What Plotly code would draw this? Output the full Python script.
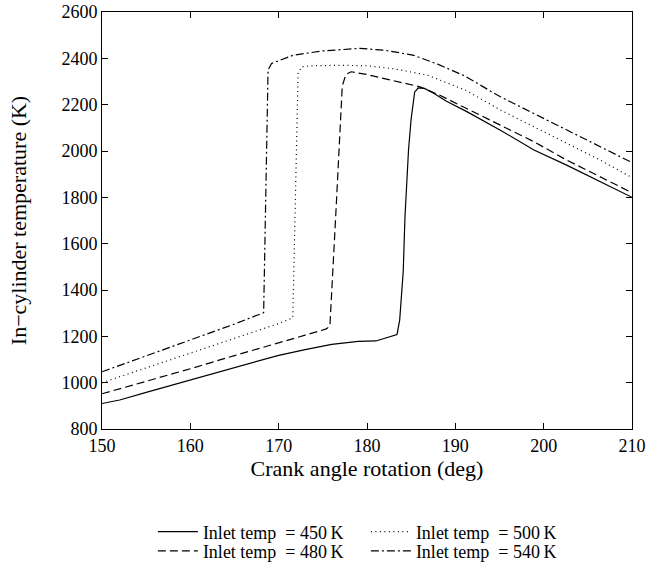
import plotly.graph_objects as go

# Inlet temp = 450 K (solid)
x450 = [150, 152, 155, 158, 160, 163, 166, 170, 173, 176, 179, 181, 183.4, 183.7, 184.1, 184.3, 184.7, 185.0, 185.4, 185.8, 186.5, 187.5, 189, 191.3, 195.1, 198.9, 202.6, 206.4, 210]
y450 = [910, 925, 958, 990, 1012, 1045, 1078, 1118, 1143, 1165, 1178, 1180, 1208, 1270, 1480, 1716, 2004, 2140, 2255, 2272, 2270, 2250, 2215, 2170, 2090, 2004, 1939, 1867, 1800]

# Inlet temp = 480 K (dashed)
x480 = [150, 155, 160, 165, 170, 173, 175.4, 175.8, 176.5, 177.2, 177.6, 178.2, 180, 183, 186, 188, 191.3, 195.1, 198.9, 202.6, 206.4, 210]
y480 = [952, 1005, 1060, 1117, 1174, 1205, 1232, 1245, 1750, 2280, 2330, 2342, 2330, 2305, 2277, 2245, 2184, 2112, 2040, 1961, 1890, 1820]

# Inlet temp = 500 K (dotted)
x500 = [150, 155, 160, 165, 170, 171.6, 171.9, 172.2, 172.6, 174, 177, 180, 183, 186.8, 189, 191.3, 195.1, 198.9, 202.6, 206.4, 210]
y500 = [1000, 1063, 1128, 1192, 1255, 1280, 1800, 2335, 2364, 2368, 2370, 2368, 2355, 2328, 2295, 2260, 2177, 2105, 2033, 1961, 1885]

# Inlet temp = 540 K (dash-dot)
x540 = [150, 155, 160, 165, 168.3, 168.5, 168.8, 169.2, 171.7, 175, 179.2, 182, 185.2, 188, 191, 195.1, 198.9, 202.6, 206.4, 210]
y540 = [1047, 1115, 1183, 1253, 1302, 1800, 2350, 2378, 2414, 2432, 2443, 2435, 2414, 2375, 2325, 2234, 2162, 2090, 2019, 1950]

labels = ["Inlet temp\u2002= 450\u2009K", "Inlet temp\u2002= 480\u2009K",
          "Inlet temp\u2002= 500\u2009K", "Inlet temp\u2002= 540\u2009K"]

xticks = [150, 160, 170, 180, 190, 200, 210]
yticks = [800, 1000, 1200, 1400, 1600, 1800, 2000, 2200, 2400, 2600]

FONT = "Liberation Serif"

fig = go.Figure()
series = [
    (x450, y450, labels[0], "solid", "legend"),
    (x500, y500, labels[2], "1px,3.5px", "legend"),
    (x480, y480, labels[1], "8px,4px", "legend2"),
    (x540, y540, labels[3], "8px,3px,2px,3px", "legend2"),
]
for xs, ys, name, dash, lg in series:
    fig.add_trace(go.Scatter(x=xs, y=ys, mode="lines", name=name,
                             line=dict(color="black", width=1.2, dash=dash),
                             legend=lg))

axis_common = dict(showgrid=False, zeroline=False, showline=True, linecolor="black",
                   linewidth=1, mirror="ticks", ticks="inside", ticklen=6,
                   tickcolor="black", tickfont=dict(family=FONT, size=18, color="black"))

legend_common = dict(orientation="h", x=0.096, xanchor="left", yanchor="middle",
                     entrywidth=158, entrywidthmode="pixels", tracegroupgap=0,
                     font=dict(family=FONT, size=18), itemwidth=40,
                     bgcolor="rgba(0,0,0,0)", borderwidth=0)

fig.update_layout(
    width=646, height=567,
    margin=dict(l=102, r=14, t=12, b=138, autoexpand=False),
    plot_bgcolor="white", paper_bgcolor="white",
    font=dict(family=FONT, size=18, color="black"),
    xaxis=dict(range=[150, 210], tickvals=xticks,
               title=dict(text="Crank angle rotation (deg)", font=dict(family=FONT, size=22), standoff=5),
               **axis_common),
    yaxis=dict(range=[800, 2600], tickvals=yticks,
               title=dict(text="In\u2212cylinder temperature (K)", font=dict(family=FONT, size=22), standoff=28),
               **axis_common),
    legend=dict(y=-0.247, **legend_common),
    legend2=dict(y=-0.293, **legend_common),
    showlegend=True,
)

fig.write_html("out.html")
